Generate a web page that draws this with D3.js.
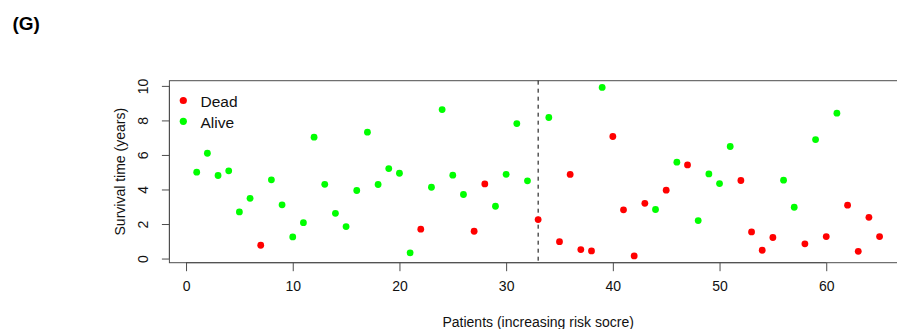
<!DOCTYPE html>
<html>
<head>
<meta charset="utf-8">
<script src="https://cdn.jsdelivr.net/npm/d3@7"></script>
<style>
  html, body { margin: 0; padding: 0; background: #fff; }
  svg { display: block; font-family: "Liberation Sans", Arial, Helvetica, sans-serif; }
</style>
</head>
<body>
<script>
// ---- data ----
const survivalYears = [
  5.00, 6.10, 4.81, 5.08, 2.70, 3.49, 0.77, 4.56, 3.11, 1.25,
  2.08, 7.03, 4.30, 2.62, 1.85, 3.94, 7.32, 4.29, 5.21, 4.94,
  0.33, 1.70, 4.13, 8.63, 4.83, 3.71, 1.58, 4.32, 3.03, 4.88,
  7.82, 4.50, 2.26, 8.17, 0.98, 4.87, 0.52, 0.44, 9.91, 7.07,
  2.82, 0.15, 3.20, 2.84, 3.96, 5.58, 5.42, 2.20, 4.90, 4.34,
  6.49, 4.52, 1.54, 0.48, 1.22, 4.54, 2.97, 0.85, 6.89, 1.27,
  8.42, 3.09, 0.42, 2.39, 1.27
];
// 1 = Dead, 0 = Alive
const status = [
  0,0,0,0,0,0,1,0,0,0,
  0,0,0,0,0,0,0,0,0,0,
  0,1,0,0,0,0,1,1,0,0,
  0,0,1,0,1,1,1,1,0,1,
  1,1,1,0,1,0,1,0,0,0,
  0,1,1,1,1,0,0,1,0,1,
  0,1,1,1,1
];
const legendLabels = ["Dead", "Alive"];
const statusColors = ["#00FF00", "#FF0000"]; // index by status
const xTicks = [0, 10, 20, 30, 40, 50, 60];
const yTicks = [0, 2, 4, 6, 8, 10];
const cutoffPatient = 33;
const panelLabel = "(G)";
const xLabel = "Patients (increasing risk socre)";
const yLabel = "Survival time (years)";

// ---- layout ----
const W = 897, H = 329;
const plot = { left: 169.4, right: 906.9, top: 80.7, bottom: 262.7 };

const points = survivalYears.map((v, i) => ({ patient: i + 1, years: v, dead: status[i] }));

// R-style 4% range extension
function rExtent(arr) {
  const [a, b] = d3.extent(arr);
  const pad = (b - a) * 0.04;
  return [a - pad, b + pad];
}

const x = d3.scaleLinear().domain(rExtent(points.map(d => d.patient))).range([plot.left, plot.right]);
const y = d3.scaleLinear().domain(rExtent(survivalYears)).range([plot.bottom, plot.top]);

const svg = d3.select("body").append("svg").attr("width", W).attr("height", H);

const axisColor = "#4d4d4d";

// box
svg.append("rect")
  .attr("x", plot.left).attr("y", plot.top)
  .attr("width", plot.right - plot.left).attr("height", plot.bottom - plot.top)
  .attr("fill", "none").attr("stroke", axisColor).attr("stroke-width", 1);

// x axis
const xAxis = d3.axisBottom(x).tickValues(xTicks).tickSize(8.5).tickPadding(10).tickFormat(d3.format("d"));
const gx = svg.append("g").attr("transform", `translate(0,${plot.bottom})`).call(xAxis);
gx.select(".domain").attr("d", `M${x(xTicks[0])},0H${x(xTicks[xTicks.length - 1])}`).attr("stroke", axisColor);
gx.selectAll(".tick line").attr("stroke", axisColor);
gx.selectAll(".tick text").attr("font-size", 14).attr("fill", "#111").attr("font-family", "Liberation Sans, Arial, sans-serif");

// y axis
const yAxis = d3.axisLeft(y).tickValues(yTicks).tickSize(7.5).tickFormat(d3.format("d"));
const gy = svg.append("g").attr("transform", `translate(${plot.left},0)`).call(yAxis);
gy.select(".domain").attr("d", `M0,${y(yTicks[0])}V${y(yTicks[yTicks.length - 1])}`).attr("stroke", axisColor);
gy.selectAll(".tick line").attr("stroke", axisColor);
gy.selectAll(".tick text")
  .attr("font-size", 14).attr("fill", "#111").attr("font-family", "Liberation Sans, Arial, sans-serif")
  .attr("text-anchor", "middle").attr("dy", null).attr("x", null)
  .attr("transform", "translate(-21,0) rotate(-90)");

// cutoff dashed line
svg.append("line")
  .attr("x1", x(cutoffPatient)).attr("x2", x(cutoffPatient))
  .attr("y1", plot.top).attr("y2", plot.bottom)
  .attr("stroke", "#000").attr("stroke-width", 1).attr("stroke-dasharray", "4,4");

// points
svg.append("g").selectAll("circle").data(points).join("circle")
  .attr("cx", d => x(d.patient)).attr("cy", d => y(d.years))
  .attr("r", 3.4)
  .attr("fill", d => statusColors[d.dead]);

// legend
const legend = svg.append("g");
const legendColors = [statusColors[1], statusColors[0]];
legendLabels.forEach((lab, i) => {
  const cy = 100.5 + i * 20.8;
  legend.append("circle").attr("cx", 183.3).attr("cy", cy).attr("r", 3.6).attr("fill", legendColors[i]);
  legend.append("text").attr("x", 200.5).attr("y", cy + 6.3)
    .attr("font-size", 15.5).attr("fill", "#111").text(lab);
});

// axis titles
svg.append("text")
  .attr("x", (plot.left + plot.right) / 2).attr("y", 326.5)
  .attr("text-anchor", "middle").attr("font-size", 14).attr("fill", "#111")
  .text(xLabel);

svg.append("text")
  .attr("transform", `translate(124.5,${(plot.top + plot.bottom) / 2}) rotate(-90)`)
  .attr("text-anchor", "middle").attr("font-size", 14).attr("fill", "#111")
  .text(yLabel);

// panel label
svg.append("text")
  .attr("x", 12.5).attr("y", 29.5)
  .attr("font-size", 19).attr("font-weight", "bold").attr("fill", "#000")
  .text(panelLabel);
</script>
</body>
</html>
